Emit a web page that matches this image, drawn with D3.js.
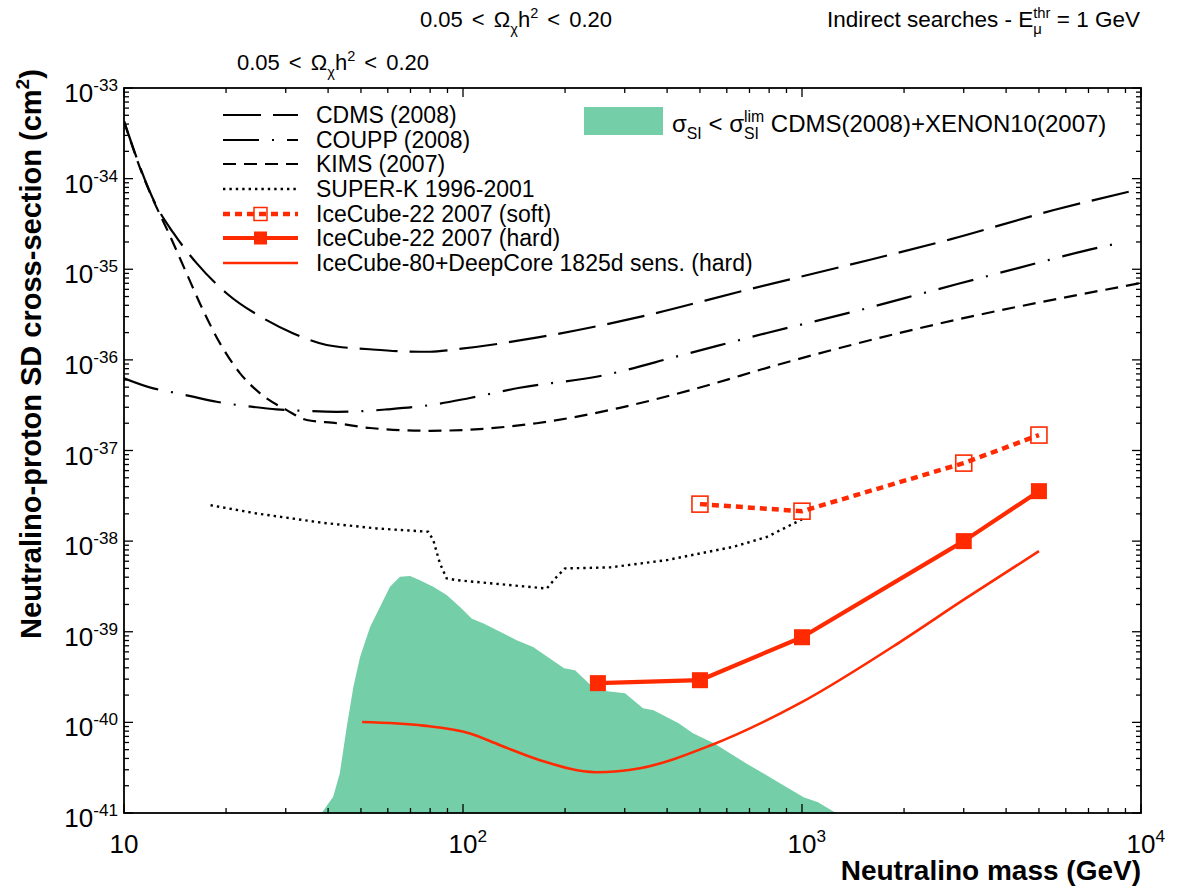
<!DOCTYPE html>
<html>
<head>
<meta charset="utf-8">
<script src="https://cdn.jsdelivr.net/npm/d3@7"></script>
<style>
  body { margin: 0; background: #fff; }
  svg { display: block; }
  text { font-family: "Liberation Sans", Arial, Helvetica, sans-serif; fill: #000; }
</style>
</head>
<body>
<svg id="chart" width="1180" height="887"></svg>
<script>
// ---- axis domains and tick labels ----
const massDomain = [10, 1e4];            // neutralino mass, GeV
const sigmaDomain = [1e-41, 1e-33];      // SD cross-section, cm^2
const xTickExponents = [1, 2, 3, 4];
const yTickExponents = [-33, -34, -35, -36, -37, -38, -39, -40, -41];

// ---- direct-detection limits: [mass GeV, sigma cm^2] ----
const cdms2008 = [
  [10, 4.3e-34], [12.5, 4.9e-35], [14, 2.5e-35], [16.4, 1.16e-35], [20.1, 5.4e-36],
  [25.8, 2.87e-36], [31.6, 1.96e-36], [39.6, 1.46e-36], [53, 1.31e-36], [67, 1.24e-36],
  [80, 1.23e-36], [94, 1.3e-36], [168, 1.78e-36], [340, 3.04e-36], [684, 5.9e-36],
  [1368, 1.11e-35], [2754, 2.15e-35], [5535, 4.5e-35], [10000, 7.7e-35]
];
const coupp2008 = [
  [10, 6.25e-37], [12.2, 4.84e-37], [13.7, 4.44e-37], [15.7, 3.98e-37], [18.75, 3.45e-37],
  [24, 3.03e-37], [28.2, 2.84e-37], [33.8, 2.74e-37], [42.4, 2.67e-37], [50.8, 2.72e-37],
  [59.5, 2.84e-37], [80, 3.17e-37], [104.8, 3.8e-37], [147, 4.92e-37], [252, 6.6e-37],
  [443, 1.13e-36], [788, 1.98e-36], [1405, 3.37e-36], [2468, 5.9e-36], [4335, 1.03e-35],
  [7620, 1.76e-35], [8380, 1.9e-35]
];
const kims2007 = [
  [10, 4.3e-34], [11.5, 9.7e-35], [12.2, 5.8e-35], [13.7, 2.29e-35], [15.3, 9.0e-36],
  [17.1, 3.55e-36], [19.2, 1.52e-36], [22, 7.1e-37], [25.2, 4.27e-37], [30.2, 2.79e-37],
  [34.6, 2.17e-37], [42.4, 2.0e-37], [53.2, 1.77e-37], [80, 1.65e-37], [165, 2.0e-37],
  [288, 2.94e-37], [494, 4.89e-37], [842, 8.77e-37], [1437, 1.5e-36], [2468, 2.45e-36],
  [10000, 7.05e-36]
];

// ---- indirect searches ----
const superK = [
  [18, 2.49e-38], [24.6, 2.02e-38], [38.7, 1.59e-38], [55.6, 1.38e-38], [79, 1.27e-38],
  [81.7, 1.03e-38], [85.5, 5.67e-39], [89.5, 3.88e-39], [95.8, 3.71e-39], [176.6, 3.0e-39],
  [189, 4.04e-39], [200, 5.0e-39], [271.5, 5.13e-39], [399, 6.17e-39], [627, 8.65e-39],
  [787, 1.11e-38], [1000, 1.74e-38]
];
const icSoft = [[500, 2.56e-38], [1000, 2.14e-38], [3000, 7.26e-38], [5000, 1.48e-37]];
const icHard = [[250, 2.71e-40], [500, 2.92e-40], [1000, 8.7e-40], [3000, 1.0e-38], [5000, 3.56e-38]];
const ic80Sens = [
  [50.4, 1.01e-40], [76.4, 9.2e-41], [104.9, 7.55e-41], [128.6, 5.6e-41], [168.6, 3.83e-41],
  [246.6, 2.82e-41], [332.7, 3.12e-41], [539, 5.6e-41], [986, 1.63e-40], [1945, 7.7e-40],
  [2985, 2.23e-39], [5000, 7.76e-39]
];

// ---- allowed models with sigma_SI below CDMS+XENON10 ----
const allowedRegion = [
  [38.3, 1e-41], [41.4, 1.51e-41], [43.3, 2.73e-41], [45.4, 8.9e-41], [47.5, 2.47e-40],
  [49.7, 5.28e-40], [53.2, 1.13e-39], [56.9, 1.88e-39], [60.9, 3.13e-39], [65.2, 4.04e-39],
  [69.8, 4.11e-39], [74.6, 3.71e-39], [81.7, 3.13e-39], [89.5, 2.54e-39], [98, 1.88e-39],
  [106, 1.4e-39], [115, 1.23e-39], [128.6, 1.0e-39], [144, 8.08e-40], [161, 6.8e-40],
  [198.7, 3.96e-40], [214, 3.77e-40], [246.6, 2.27e-40], [300.6, 2.1e-40], [339.6, 1.43e-40],
  [364.8, 1.36e-40], [432.5, 9.8e-41], [476.8, 7.6e-41], [549.8, 5.9e-41], [683.5, 3.55e-41],
  [832, 2.3e-41], [1011, 1.49e-41], [1115, 1.31e-41], [1259, 1e-41]
];

// ---- layout ----
const svg = d3.select('#chart');
const plot = { left: 124, right: 1141, top: 88, bottom: 813 };
const RED = '#ff2a00';
const GREEN = '#74cfa8';

const x = d3.scaleLog().domain(massDomain).range([plot.left, plot.right]);
const y = d3.scaleLog().domain(sigmaDomain).range([plot.bottom, plot.top]);

svg.append('defs').append('clipPath').attr('id', 'plotClip')
  .append('rect')
  .attr('x', plot.left).attr('y', plot.top)
  .attr('width', plot.right - plot.left).attr('height', plot.bottom - plot.top);

const body = svg.append('g').attr('clip-path', 'url(#plotClip)');

// shaded model region
const area = d3.area()
  .x(d => x(d[0]))
  .y0(y(sigmaDomain[0]))
  .y1(d => y(d[1]))
  .curve(d3.curveLinear);
body.append('path').datum(allowedRegion).attr('d', area).attr('fill', GREEN);

const smooth = d3.line().x(d => x(d[0])).y(d => y(d[1])).curve(d3.curveMonotoneX);
const straight = d3.line().x(d => x(d[0])).y(d => y(d[1])).curve(d3.curveLinear);

const styles = {
  cdms:  { stroke: '#000', width: 2.2, dash: '38,12' },
  coupp: { stroke: '#000', width: 2.2, dash: '36,13,2,13' },
  kims:  { stroke: '#000', width: 2.2, dash: '13,8' },
  superk:{ stroke: '#000', width: 2.4, dash: '2.4,4' },
  soft:  { stroke: RED, width: 4.5, dash: '7,5' },
  hard:  { stroke: RED, width: 4.2, dash: null },
  ic80:  { stroke: RED, width: 2.6, dash: null }
};

function drawLine(data, gen, st) {
  const p = body.append('path').datum(data).attr('d', gen)
    .attr('fill', 'none').attr('stroke', st.stroke).attr('stroke-width', st.width)
    .attr('stroke-linejoin', 'round');
  if (st.dash) p.attr('stroke-dasharray', st.dash);
  return p;
}

drawLine(cdms2008, smooth, styles.cdms);
drawLine(coupp2008, smooth, styles.coupp);
drawLine(kims2007, smooth, styles.kims);
drawLine(superK, straight, styles.superk);
drawLine(ic80Sens, smooth, styles.ic80);
drawLine(icSoft, straight, styles.soft);
drawLine(icHard, straight, styles.hard);

// markers
const mk = 16;
body.selectAll('rect.soft').data(icSoft).enter().append('rect')
  .attr('x', d => x(d[0]) - mk / 2).attr('y', d => y(d[1]) - mk / 2)
  .attr('width', mk).attr('height', mk)
  .attr('fill', 'none').attr('stroke', RED).attr('stroke-width', 1.6);
body.selectAll('rect.hard').data(icHard).enter().append('rect')
  .attr('x', d => x(d[0]) - mk / 2).attr('y', d => y(d[1]) - mk / 2)
  .attr('width', mk).attr('height', mk).attr('fill', RED);

// ---- frame and ticks ----
const axes = svg.append('g');
axes.append('rect')
  .attr('x', plot.left).attr('y', plot.top)
  .attr('width', plot.right - plot.left).attr('height', plot.bottom - plot.top)
  .attr('fill', 'none').attr('stroke', '#000').attr('stroke-width', 1.8);

const isMajor = v => Math.abs(Math.log10(v) - Math.round(Math.log10(v))) < 1e-6;
const MAJ = 9, MIN = 5;

x.ticks().forEach(v => {
  const px = x(v), len = isMajor(v) ? MAJ : MIN;
  axes.append('line').attr('x1', px).attr('x2', px).attr('y1', plot.bottom).attr('y2', plot.bottom - len)
    .attr('stroke', '#000').attr('stroke-width', 1.3);
  axes.append('line').attr('x1', px).attr('x2', px).attr('y1', plot.top).attr('y2', plot.top + len)
    .attr('stroke', '#000').attr('stroke-width', 1.3);
});
y.ticks().forEach(v => {
  const py = y(v), len = isMajor(v) ? MAJ : MIN;
  axes.append('line').attr('x1', plot.left).attr('x2', plot.left + len).attr('y1', py).attr('y2', py)
    .attr('stroke', '#000').attr('stroke-width', 1.3);
  axes.append('line').attr('x1', plot.right).attr('x2', plot.right - len).attr('y1', py).attr('y2', py)
    .attr('stroke', '#000').attr('stroke-width', 1.3);
});

// rich text helper: parts are strings or [string, 'sup'|'sub']
function rich(g, px, py, parts, size, opts = {}) {
  const t = g.append('text').attr('x', px).attr('y', py).attr('font-size', size)
    .attr('text-anchor', opts.anchor || 'start');
  if (opts.weight) t.attr('font-weight', opts.weight);
  if (opts.wordSpacing) t.attr('word-spacing', opts.wordSpacing);
  let cur = 0;
  parts.forEach(p => {
    const [str, kind] = Array.isArray(p) ? p : [p, null];
    const off = kind === 'sup' ? -0.42 * size : kind === 'sub' ? 0.3 * size : 0;
    const ts = t.append('tspan').attr('dy', off - cur).text(str);
    if (kind) ts.attr('font-size', size * 0.66);
    cur = off;
  });
  return t;
}

// tick labels
const labels = svg.append('g');
yTickExponents.forEach(e => {
  rich(labels, plot.left - 6, y(Math.pow(10, e)) + 14, ['10', [String(e), 'sup']], 26, { anchor: 'end' });
});
xTickExponents.forEach(e => {
  const px = x(Math.pow(10, e));
  if (e === 1) {
    labels.append('text').attr('x', px).attr('y', 853).attr('font-size', 26)
      .attr('text-anchor', 'middle').text('10');
  } else {
    rich(labels, px - 14.5, 853, ['10', [String(e), 'sup']], 26);
  }
});

// axis titles
svg.append('text').attr('x', plot.right).attr('y', 880)
  .attr('text-anchor', 'end').attr('font-size', 28).attr('font-weight', 'bold')
  .text('Neutralino mass (GeV)');
rich(svg.append('g').attr('transform', 'translate(41,354) rotate(-90)'), 0, 0,
  ['Neutralino-proton SD cross-section (cm', ['2', 'sup'], ')'], 29, { anchor: 'middle', weight: 'bold' });

// header lines
rich(svg, 516, 27, ['0.05 < \u03A9', ['\u03C7', 'sub'], 'h', ['2', 'sup'], ' < 0.20'], 22, { anchor: 'middle', wordSpacing: 3 });
rich(svg, 333, 70, ['0.05 < \u03A9', ['\u03C7', 'sub'], 'h', ['2', 'sup'], ' < 0.20'], 22, { anchor: 'middle', wordSpacing: 3 });

// text with a stacked sub/superscript after a symbol
function stacked(g, px, py, size, before, sup, sub, after) {
  const t = g.append('text').attr('x', px).attr('y', py).attr('font-size', size);
  let cur = 0;
  before.forEach(p => {
    const [str, kind] = Array.isArray(p) ? p : [p, null];
    const off = kind === 'sub' ? 0.3 * size : kind === 'sup' ? -0.42 * size : 0;
    const ts = t.append('tspan').attr('dy', off - cur).text(str);
    if (kind) ts.attr('font-size', size * 0.66);
    cur = off;
  });
  const w0 = t.node().getComputedTextLength();
  const supOff = -0.42 * size, subOff = 0.3 * size;
  const a = t.append('tspan').attr('x', px + w0).attr('dy', supOff - cur).attr('font-size', size * 0.66).text(sup);
  const b = t.append('tspan').attr('x', px + w0).attr('dy', subOff - supOff).attr('font-size', size * 0.66).text(sub);
  const w = Math.max(a.node().getComputedTextLength(), b.node().getComputedTextLength());
  t.append('tspan').attr('x', px + w0 + w).attr('dy', -subOff).text(after);
  return t;
}

const hdr = svg.append('g');
stacked(hdr, 0, 27, 22.5, ['Indirect searches - E'], 'thr', '\u03BC', ' = 1 GeV');
const hb = hdr.node().getBBox();
hdr.attr('transform', `translate(${1140 - (hb.x + hb.width)},0)`);

// ---- legend ----
const legend = svg.append('g');
const legendRows = [
  { key: 'cdms', label: 'CDMS (2008)', y: 115 },
  { key: 'coupp', label: 'COUPP (2008)', y: 140 },
  { key: 'kims', label: 'KIMS (2007)', y: 164 },
  { key: 'superk', label: 'SUPER-K 1996-2001', y: 189 },
  { key: 'soft', label: 'IceCube-22 2007 (soft)', y: 214, marker: 'open' },
  { key: 'hard', label: 'IceCube-22 2007 (hard)', y: 238, marker: 'filled' },
  { key: 'ic80', label: 'IceCube-80+DeepCore 1825d sens. (hard)', y: 263 }
];
const lx1 = 223, lx2 = 298, ltx = 316;
legendRows.forEach(r => {
  const st = styles[r.key];
  const l = legend.append('line').attr('x1', lx1).attr('x2', lx2).attr('y1', r.y).attr('y2', r.y)
    .attr('stroke', st.stroke).attr('stroke-width', st.width);
  if (st.dash) l.attr('stroke-dasharray', st.dash);
  const ms = 13, cx = (lx1 + lx2) / 2;
  if (r.marker === 'open') {
    legend.append('rect').attr('x', cx - ms / 2).attr('y', r.y - ms / 2).attr('width', ms).attr('height', ms)
      .attr('fill', 'none').attr('stroke', RED).attr('stroke-width', 1.5);
  } else if (r.marker === 'filled') {
    legend.append('rect').attr('x', cx - ms / 2).attr('y', r.y - ms / 2).attr('width', ms).attr('height', ms)
      .attr('fill', RED);
  }
  legend.append('text').attr('x', ltx).attr('y', r.y + 8).attr('font-size', 23).text(r.label);
});

legend.append('rect').attr('x', 584).attr('y', 107).attr('width', 79).attr('height', 28).attr('fill', GREEN);
stacked(legend, 672, 132, 24, ['\u03C3', ['SI', 'sub'], ' < \u03C3'], 'lim', 'SI', ' CDMS(2008)+XENON10(2007)');
</script>
</body>
</html>
